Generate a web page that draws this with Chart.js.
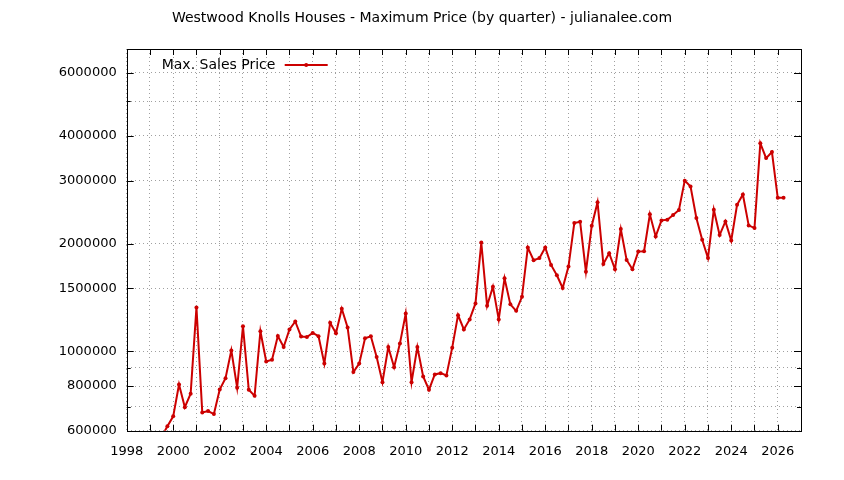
<!DOCTYPE html>
<html>
<head>
<meta charset="utf-8">
<script src="https://cdn.jsdelivr.net/npm/chart.js@4/dist/chart.umd.min.js"></script>
<style>
    html, body { margin: 0; padding: 0; background: #fff; }
    #wrap { width: 844px; height: 480px; }
</style>
</head>
<body>
<div id="wrap"><canvas id="priceChart"></canvas></div>
<script>
    // Data (quarterly, first point = 1999 Q3)
    const firstQuarter = 1999.5;
    const maxPrice = [
        577000, 617000,
        658000, 808000, 698000, 761000,
        1327000, 675000, 681000, 668000,
        782000, 841000, 1006000, 791000,
        1176000, 781000, 751000, 1138000,
        937000, 948000, 1104000, 1028000,
        1151000, 1212000, 1100000, 1097000,
        1126000, 1102000, 924000, 1202000,
        1124000, 1315000, 1166000, 875000,
        924000, 1088000, 1102000, 964000,
        820000, 1028000, 903000, 1051000,
        1276000, 820000, 1028000, 851000,
        781000, 862000, 869000, 856000,
        1024000, 1262000, 1151000, 1228000,
        1361000, 2015000, 1341000, 1516000,
        1228000, 1600000, 1353000, 1298000,
        1420000, 1950000, 1798000, 1822000,
        1951000, 1744000, 1632000, 1503000,
        1725000, 2284000, 2303000, 1670000,
        2244000, 2610000, 1755000, 1881000,
        1696000, 2197000, 1801000, 1696000,
        1900000, 1905000, 2415000, 2095000,
        2323000, 2333000, 2406000, 2485000,
        3000000, 2888000, 2360000, 2050000,
        1822000, 2489000, 2113000, 2308000,
        2041000, 2568000, 2744000, 2249000,
        2211000, 3814000, 3469000, 3606000,
        2686000, 2686000
    ];

    // Axes
    const xMin = 1998, xMax = 2027;
    const yMin = 600000, yMax = 7000000;
    const yTicks    = [600000, 700000, 800000, 900000, 1000000, 1500000, 2000000, 3000000, 4000000, 5000000, 6000000, 7000000];
    const yLabelled = [600000, 800000, 1000000, 1500000, 2000000, 3000000, 4000000, 6000000];

    const titleText  = "Westwood Knolls Houses - Maximum Price (by quarter) - julianalee.com";
    const legendText = "Max. Sales Price";

    const RED  = "#cc0000";
    const FONT = "'DejaVu Sans', sans-serif";

    const points = maxPrice.map((p, i) => ({ x: firstQuarter + i * 0.25, y: p }));

    // title over the whole canvas, frame, inner ticks (gnuplot style) and legend
    const framePlugin = {
        id: "frame",
        afterDraw(chart) {
            const ctx = chart.ctx;
            const a = chart.chartArea;
            const xs = chart.scales.x, ys = chart.scales.y;

            ctx.save();
            ctx.font = "14px " + FONT;
            ctx.fillStyle = "#000";
            ctx.textBaseline = "middle";
            ctx.textAlign = "center";
            ctx.fillText(titleText, chart.width / 2, 18);

            ctx.strokeStyle = "#000";
            ctx.lineWidth = 1;
            ctx.strokeRect(Math.round(a.left) + 0.5, Math.round(a.top) + 0.5,
                Math.round(a.right - a.left), Math.round(a.bottom - a.top));

            ctx.beginPath();
            for (let v = xMin + 1; v < xMax; v++) {
                const px = Math.round(xs.getPixelForValue(v)) + 0.5;
                ctx.moveTo(px, a.bottom); ctx.lineTo(px, a.bottom - 6);
                ctx.moveTo(px, a.top);    ctx.lineTo(px, a.top + 6);
            }
            yTicks.forEach((v) => {
                if (v <= yMin || v >= yMax) return;
                const py = Math.round(ys.getPixelForValue(v)) + 0.5;
                const len = yLabelled.includes(v) ? 7 : 4;
                ctx.moveTo(a.left, py);  ctx.lineTo(a.left + len, py);
                ctx.moveTo(a.right, py); ctx.lineTo(a.right - len, py);
            });
            ctx.stroke();

            // legend
            const ly = a.top + 16;
            ctx.textAlign = "left";
            ctx.fillText(legendText, a.left + 35, ly);
            ctx.strokeStyle = RED;
            ctx.lineWidth = 2;
            ctx.beginPath();
            ctx.moveTo(a.left + 158, ly);
            ctx.lineTo(a.left + 201, ly);
            ctx.stroke();
            ctx.fillStyle = RED;
            ctx.beginPath();
            ctx.arc(a.left + 179.5, ly, 2, 0, Math.PI * 2);
            ctx.fill();
            ctx.restore();
        }
    };

    new Chart(document.getElementById("priceChart"), {
        type: "line",
        data: {
            datasets: [{
                label: legendText,
                data: points,
                borderColor: RED,
                backgroundColor: RED,
                borderWidth: 2,
                pointRadius: 2,
                pointHoverRadius: 2,
                pointBorderWidth: 0,
                tension: 0
            }]
        },
        options: {
            responsive: true,
            maintainAspectRatio: false,
            animation: false,
            events: [],
            layout: { padding: { left: 0, right: 43, top: 49, bottom: 0 } },
            plugins: {
                legend: { display: false },
                tooltip: { enabled: false },
                title: { display: false }
            },
            scales: {
                x: {
                    type: "linear",
                    min: xMin,
                    max: xMax,
                    afterFit: (s) => { s.height = 49.3; },
                    ticks: {
                        stepSize: 1,
                        autoSkip: false,
                        maxRotation: 0,
                        padding: 13,
                        color: "#000",
                        font: { family: FONT, size: 13 },
                        callback: (v) => (v % 2 === 0 ? String(v) : "")
                    },
                    grid: { color: "#a0a0a0", lineWidth: 1, drawTicks: false },
                    border: { display: false, dash: [1, 3] }
                },
                y: {
                    type: "logarithmic",
                    min: yMin,
                    max: yMax,
                    afterFit: (s) => { s.width = 126.7; },
                    afterBuildTicks: (s) => { s.ticks = yTicks.map((v) => ({ value: v })); },
                    ticks: {
                        autoSkip: false,
                        padding: 10,
                        color: "#000",
                        font: { family: FONT, size: 13 },
                        callback: (v) => (yLabelled.includes(v) ? String(v) : "")
                    },
                    grid: { color: "#a0a0a0", lineWidth: 1, drawTicks: false },
                    border: { display: false, dash: [1, 3] }
                }
            }
        },
        plugins: [framePlugin]
    });
</script>
</body>
</html>
